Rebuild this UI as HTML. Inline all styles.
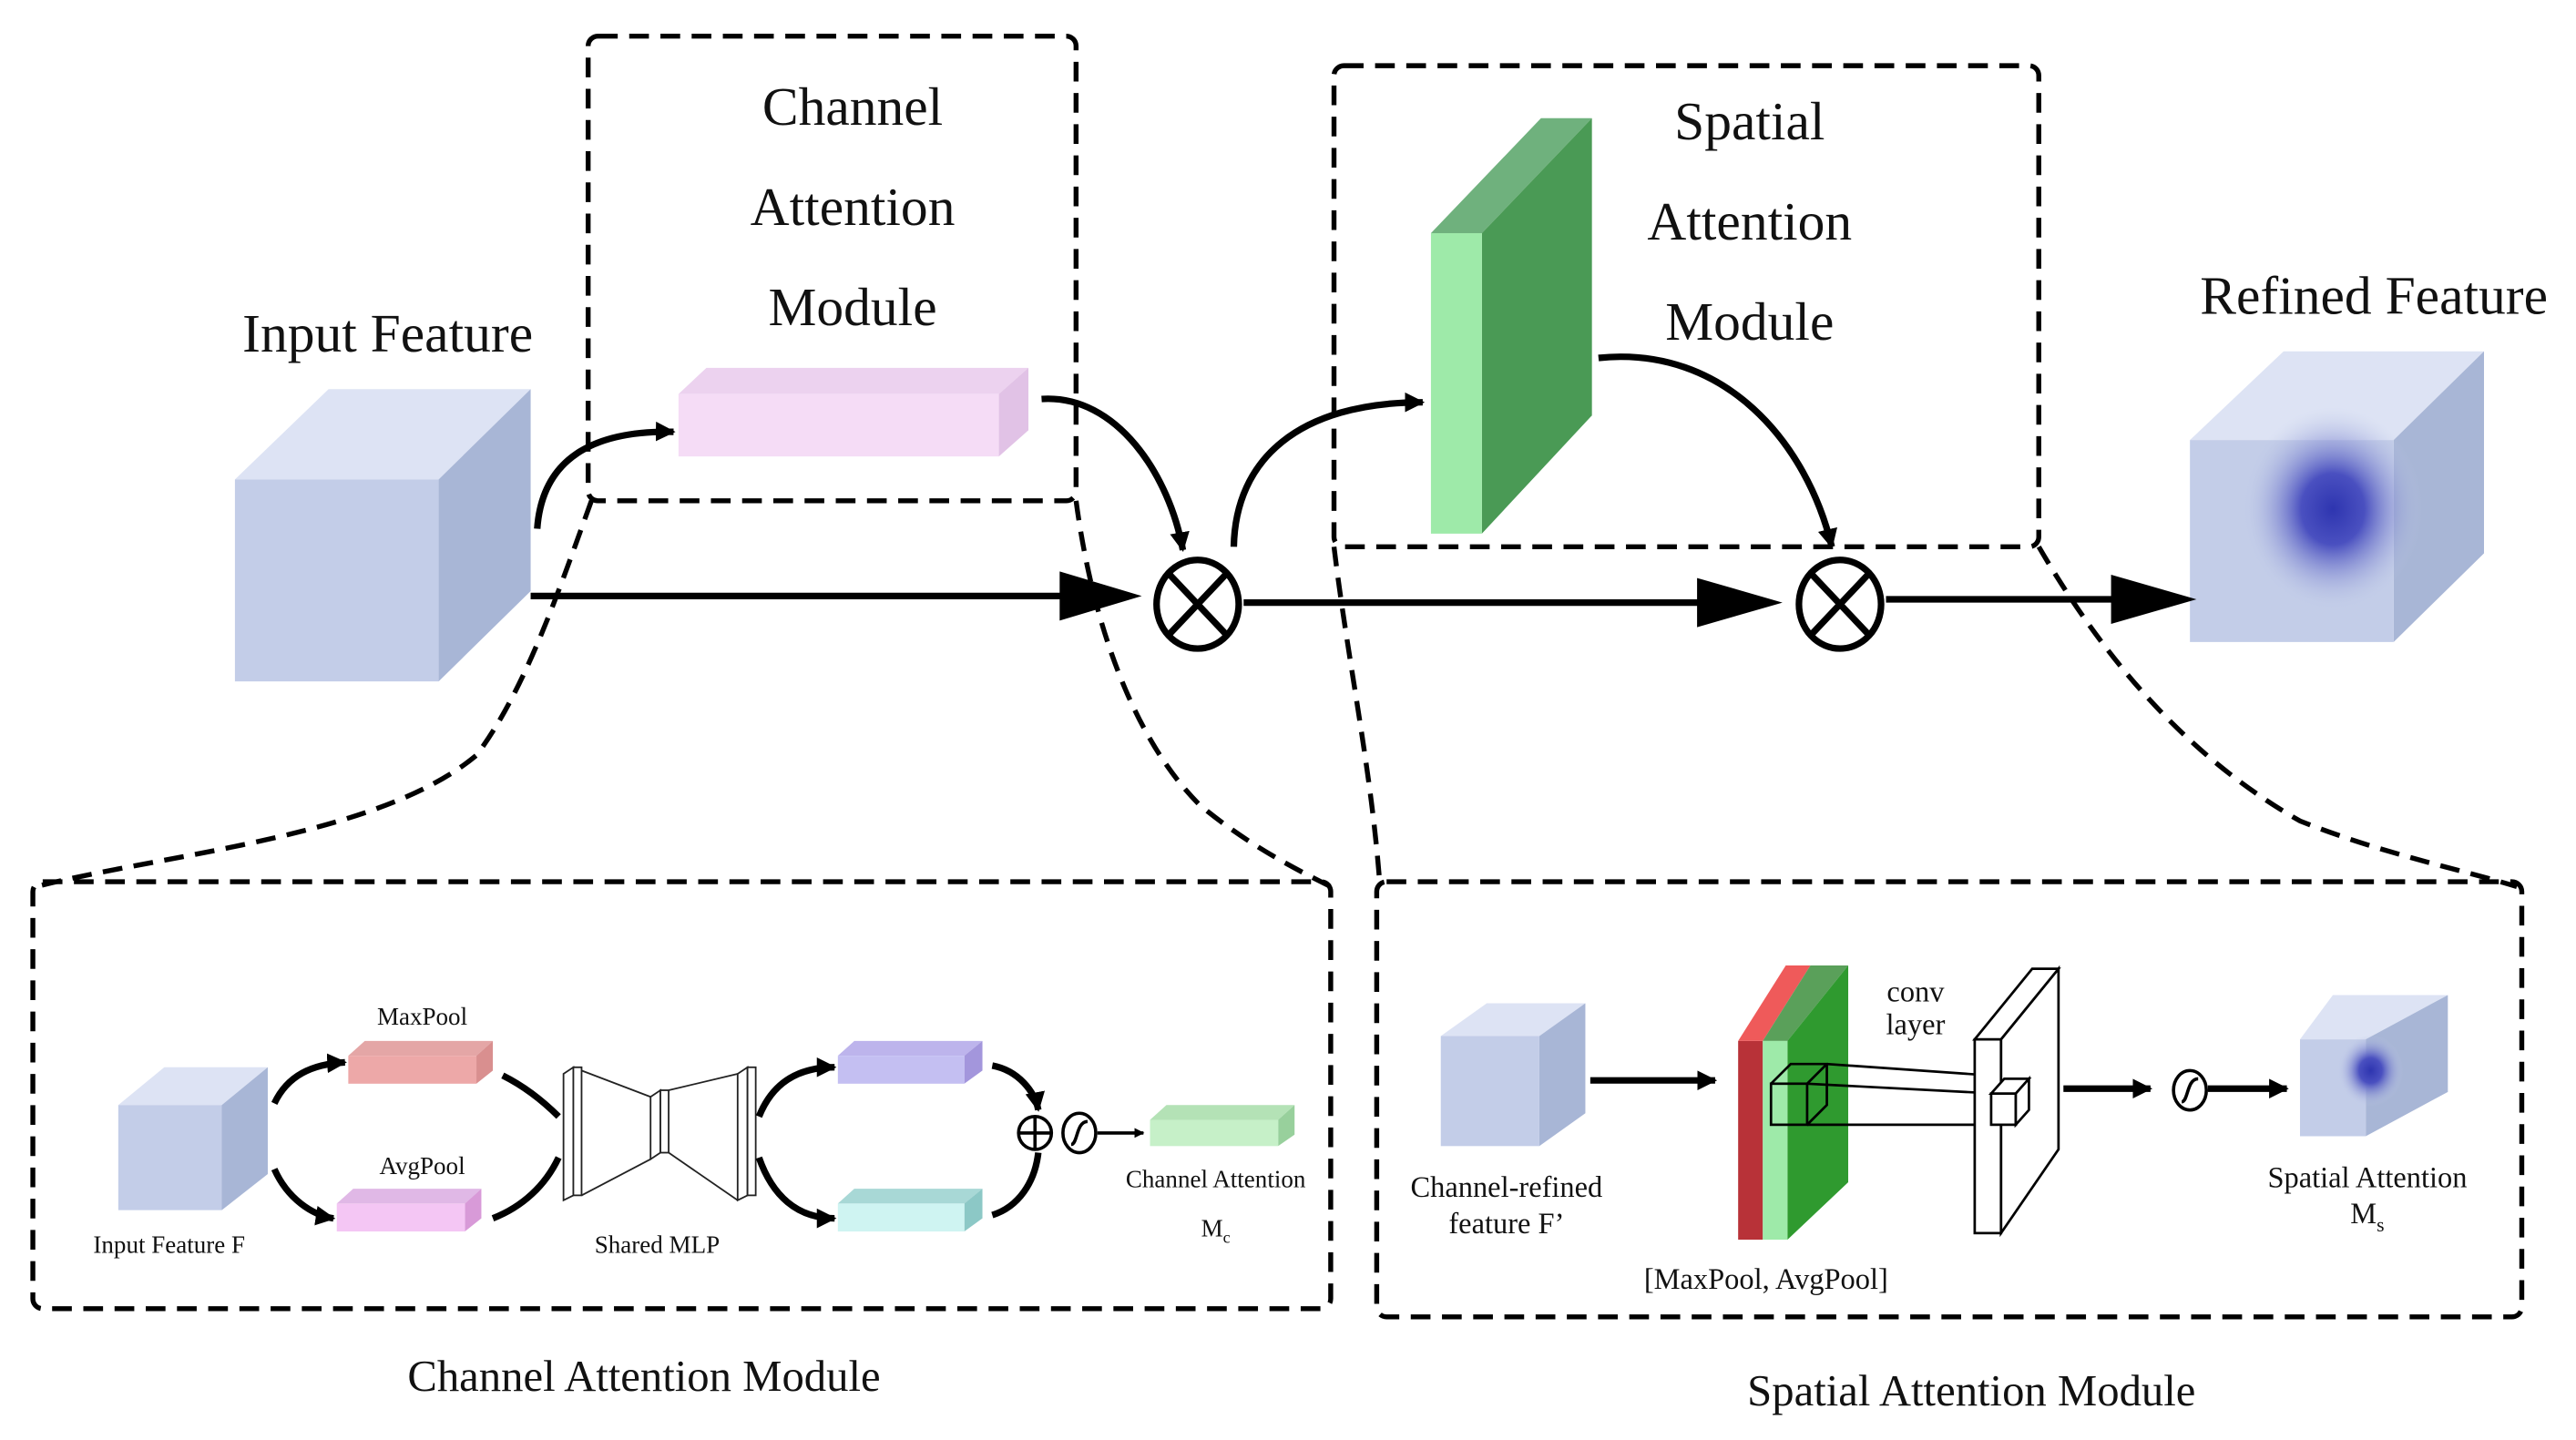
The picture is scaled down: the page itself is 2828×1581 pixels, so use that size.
<!DOCTYPE html>
<html><head><meta charset="utf-8"><style>
html,body{margin:0;padding:0;background:#fff;}
svg{display:block;}
text{font-family:"Liberation Serif",serif;fill:#111;}
</style></head><body>
<svg width="2828" height="1581" viewBox="0 0 1568 877" preserveAspectRatio="none" xmlns="http://www.w3.org/2000/svg">
<defs>
<marker id="ah" viewBox="0 0 10 10" refX="9" refY="5" markerWidth="4" markerHeight="4" orient="auto"><path d="M0,0 L10,5 L0,10 z" fill="#000"/></marker>
<marker id="ahs" viewBox="0 0 10 10" refX="9" refY="5" markerWidth="3" markerHeight="3" orient="auto"><path d="M0,0 L10,5 L0,10 z" fill="#000"/></marker>
<radialGradient id="blob" cx="0.5" cy="0.5" r="0.5">
<stop offset="0" stop-color="#2e35b0"/><stop offset="0.35" stop-color="#4a50c0"/><stop offset="1" stop-color="#c3cde8" stop-opacity="0"/></radialGradient>
</defs>
<g fill="none" stroke="#000" stroke-width="3" stroke-dasharray="12,7">
<rect x="358" y="22" width="297" height="283" rx="6"/>
<rect x="812" y="40" width="429" height="293" rx="6"/>
<rect x="20" y="537" width="790" height="260" rx="6"/>
<rect x="838" y="537" width="697" height="265" rx="6"/>
<path d="M360,305 C340,360 320,420 290,460 C230,510 100,520 22,540"/>
<path d="M655,305 C665,380 690,450 730,490 C760,515 790,530 810,540"/>
<path d="M812,333 C820,400 835,470 840,540"/>
<path d="M1241,333 C1280,400 1330,460 1400,500 C1450,520 1500,530 1532,540"/>
</g>
<!-- input cube -->
<polygon points="143,292 200,237 323,237 267,292" fill="#dde3f4"/>
<polygon points="267,292 323,237 323,360 267,415" fill="#a8b6d6"/>
<rect x="143" y="292" width="124" height="123" fill="#c3cde8"/>
<!-- pink bar -->
<polygon points="413,240 430,224 626,224 608,240" fill="#ecd2ef"/>
<polygon points="608,240 626,224 626,262 608,278" fill="#e1c2e6"/>
<rect x="413" y="240" width="195" height="38" fill="#f5dcf6"/>
<!-- green slab -->
<polygon points="871,142 938,72 969,72 902,142" fill="#6fb17d"/>
<polygon points="902,142 969,72 969,253 902,325" fill="#4a9a55"/>
<rect x="871" y="142" width="31" height="183" fill="#9eeaa9"/>
<!-- refined cube -->
<polygon points="1333,268 1390,214 1512,214 1457,268" fill="#dde3f4"/>
<polygon points="1457,268 1512,214 1512,337 1457,391" fill="#a8b6d6"/>
<rect x="1333" y="268" width="124" height="123" fill="#c3cde8"/>
<ellipse cx="1420" cy="310" rx="55" ry="62" fill="url(#blob)"/>
<!-- arrows top -->
<g fill="none" stroke="#000" stroke-width="4">
<path d="M327,322 C330,280 360,262 410,263" marker-end="url(#ahs)"/>
<path d="M634,243 C680,240 712,290 720,335" marker-end="url(#ahs)"/>
<path d="M751,333 C752,280 790,245 866,245" marker-end="url(#ahs)"/>
<path d="M973,218 C1050,210 1100,270 1115,333" marker-end="url(#ahs)"/>
<line x1="323" y1="363" x2="650" y2="363"/>
<line x1="757" y1="367" x2="1040" y2="367"/>
<line x1="1148" y1="365" x2="1295" y2="365"/>
</g>
<polygon points="645,348 695,363 645,378" fill="#000"/>
<polygon points="1033,352 1085,367 1033,382" fill="#000"/>
<polygon points="1285,350 1337,365 1285,380" fill="#000"/>
<g fill="#fff" stroke="#000" stroke-width="4">
<ellipse cx="729" cy="368" rx="25" ry="27"/>
<ellipse cx="1120" cy="368" rx="25" ry="27"/>
</g>
<g stroke="#000" stroke-width="4">
<line x1="712" y1="350" x2="746" y2="386"/><line x1="746" y1="350" x2="712" y2="386"/>
<line x1="1103" y1="350" x2="1137" y2="386"/><line x1="1137" y1="350" x2="1103" y2="386"/>
</g>
<g font-size="33" text-anchor="middle">
<text x="519" y="76">Channel</text><text x="519" y="137">Attention</text><text x="519" y="198">Module</text>
<text x="1065" y="85">Spatial</text><text x="1065" y="146">Attention</text><text x="1065" y="207">Module</text>
<text x="236" y="214">Input Feature</text>
<text x="1445" y="191">Refined Feature</text>
</g>
<g font-size="27" text-anchor="middle">
<text x="392" y="847">Channel Attention Module</text>
<text x="1200" y="856">Spatial Attention Module</text>
</g>
<!-- bottom left -->
<polygon points="72,673 100,650 163,650 135,673" fill="#dde3f4"/>
<polygon points="135,673 163,650 163,715 135,737" fill="#a8b6d6"/>
<rect x="72" y="673" width="63" height="64" fill="#c3cde8"/>
<polygon points="212,643 222,634 300,634 290,643" fill="#e4a6a6"/>
<polygon points="290,643 300,634 300,652 290,660" fill="#d98f8f"/>
<rect x="212" y="643" width="78" height="17" fill="#eda8a8"/>
<polygon points="205,733 215,724 293,724 283,733" fill="#e0b8e6"/>
<polygon points="283,733 293,724 293,742 283,750" fill="#d89ad8"/>
<rect x="205" y="733" width="78" height="17" fill="#f4c6f4"/>
<polygon points="510,643 520,634 598,634 587,643" fill="#bdb4ec"/>
<polygon points="587,643 598,634 598,652 587,660" fill="#a396dc"/>
<rect x="510" y="643" width="77" height="17" fill="#c4bff2"/>
<polygon points="510,733 520,724 598,724 587,733" fill="#a8d8d6"/>
<polygon points="587,733 598,724 598,742 587,750" fill="#8cc8c6"/>
<rect x="510" y="733" width="77" height="17" fill="#cff4f2"/>
<polygon points="700,682 710,673 788,673 778,682" fill="#b4e2b6"/>
<polygon points="778,682 788,673 788,691 778,698" fill="#98d09c"/>
<rect x="700" y="682" width="78" height="16" fill="#c6f0c8"/>
<!-- shared MLP -->
<g fill="#fff" stroke="#222" stroke-width="1">
<polygon points="343,654 349,650 349,728 343,731"/><rect x="349" y="650" width="5" height="78"/>
<polygon points="449,654 455,650 455,728 449,731"/><rect x="455" y="650" width="5" height="78"/>
<polygon points="396,668 402,664 402,702 396,706"/><rect x="402" y="664" width="5" height="38"/>
<line x1="354" y1="652" x2="396" y2="668"/><line x1="354" y1="728" x2="396" y2="706"/>
<line x1="407" y1="664" x2="449" y2="654"/><line x1="407" y1="702" x2="449" y2="731"/>
</g>
<g fill="none" stroke="#000" stroke-width="4">
<path d="M167,672 C175,655 190,648 210,647" marker-end="url(#ahs)"/>
<path d="M167,712 C175,730 190,740 203,742" marker-end="url(#ahs)"/>
<path d="M306,655 C320,662 332,672 340,680"/>
<path d="M300,742 C318,735 332,722 340,705"/>
<path d="M462,680 C470,660 485,650 508,650" marker-end="url(#ahs)"/>
<path d="M462,705 C470,728 485,742 508,742" marker-end="url(#ahs)"/>
<path d="M604,649 C620,652 630,665 632,676" marker-end="url(#ahs)"/>
<path d="M604,740 C620,735 630,720 632,702"/>
</g>
<g fill="none" stroke="#000" stroke-width="2">
<circle cx="630" cy="690" r="10"/><line x1="620" y1="690" x2="640" y2="690"/><line x1="630" y1="680" x2="630" y2="700"/>
<ellipse cx="657" cy="690" rx="10" ry="12"/><path d="M652,697 C656,697 655,683 662,683"/>
<line x1="668" y1="690" x2="696" y2="690" marker-end="url(#ahs)"/>
</g>
<g font-size="15" text-anchor="middle">
<text x="257" y="624">MaxPool</text><text x="257" y="715">AvgPool</text>
<text x="103" y="763">Input Feature F</text><text x="400" y="763">Shared MLP</text>
<text x="740" y="723">Channel Attention</text><text x="740" y="753">M<tspan font-size="10" dy="4">c</tspan></text>
</g>
<!-- bottom right -->
<polygon points="877,631 905,611 965,611 937,631" fill="#dde3f4"/>
<polygon points="937,631 965,611 965,678 937,698" fill="#a8b6d6"/>
<rect x="877" y="631" width="60" height="67" fill="#c3cde8"/>
<polygon points="1058,634 1087,588 1102,588 1073,634" fill="#ef5a5a"/>
<polygon points="1073,634 1102,588 1125,588 1088,634" fill="#5aa05a"/>
<polygon points="1088,634 1125,588 1125,720 1088,755" fill="#2f9a2f"/>
<rect x="1058" y="634" width="15" height="121" fill="#b83238"/>
<rect x="1073" y="634" width="15" height="121" fill="#9eeaa9"/>
<g fill="none" stroke="#000" stroke-width="1.5">
<rect x="1078" y="660" width="22" height="25"/>
<polyline points="1078,660 1090,648 1112,648 1112,673 1100,685"/><line x1="1100" y1="660" x2="1112" y2="648"/>
<line x1="1112" y1="648" x2="1226" y2="656"/><line x1="1100" y1="685" x2="1215" y2="685"/><line x1="1100" y1="660" x2="1215" y2="666"/>
</g>
<g fill="#fff" stroke="#000" stroke-width="1.5">
<polygon points="1218,633 1253,590 1253,700 1218,751"/>
<rect x="1202" y="633" width="16" height="118"/>
<polygon points="1202,633 1237,590 1253,590 1218,633"/>
<rect x="1212" y="666" width="15" height="19"/>
<polygon points="1212,666 1220,657 1235,657 1227,666"/><polygon points="1227,666 1235,657 1235,676 1227,685"/>
</g>
<polygon points="1400,633 1420,606 1490,606 1440,633" fill="#dde3f4"/>
<polygon points="1440,633 1490,606 1490,665 1440,692" fill="#a8b6d6"/>
<rect x="1400" y="633" width="40" height="59" fill="#c3cde8"/>
<ellipse cx="1443" cy="652" rx="20" ry="22" fill="url(#blob)"/>
<g fill="none" stroke="#000" stroke-width="4">
<line x1="968" y1="658" x2="1044" y2="658" marker-end="url(#ahs)"/>
<line x1="1256" y1="663" x2="1309" y2="663" marker-end="url(#ahs)"/>
<line x1="1344" y1="663" x2="1392" y2="663" marker-end="url(#ahs)"/>
</g>
<g fill="none" stroke="#000" stroke-width="2">
<ellipse cx="1333" cy="664" rx="10" ry="12"/><path d="M1328,671 C1332,671 1331,657 1338,657"/>
</g>
<g font-size="18" text-anchor="middle">
<text x="917" y="729">Channel-refined</text><text x="917" y="751">feature F’</text>
<text x="1075" y="785">[MaxPool, AvgPool]</text>
<text x="1166" y="610">conv</text><text x="1166" y="630">layer</text>
<text x="1441" y="723">Spatial Attention</text><text x="1441" y="745">M<tspan font-size="12" dy="5">s</tspan></text>
</g>
</svg>
</body></html>
